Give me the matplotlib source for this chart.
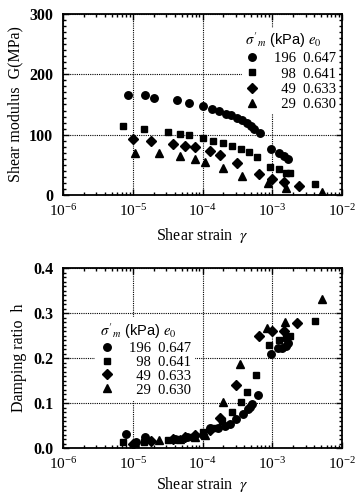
import matplotlib
matplotlib.use("Agg")
import matplotlib.pyplot as plt
from matplotlib.ticker import LogLocator, NullFormatter, MultipleLocator, AutoMinorLocator

plt.rcParams['font.family'] = ['Liberation Serif', 'DejaVu Serif']
plt.rcParams['mathtext.fontset'] = 'stix'

# legend rows: confining stress (kPa) and void ratio
stress = ['196', '98', '49', '29']
void_ratio = ['0.647', '0.641', '0.633', '0.630']
markers = ['o', 's', 'D', '^']
msizes = [5.4, 4.8, 4.8, 5.2]

# shear modulus G (MPa) vs shear strain
g196_x = [8.5e-6, 1.52e-5, 2.05e-5, 4.3e-5, 6.4e-5, 1.0e-4, 1.38e-4, 1.75e-4, 2.14e-4, 2.58e-4,
          3.1e-4, 3.7e-4, 4.4e-4, 5.0e-4, 5.45e-4, 6.6e-4, 9.7e-4, 1.23e-3, 1.45e-3, 1.67e-3]
g196_y = [165, 165, 161, 157, 153, 147, 142, 139, 135, 132, 128, 124, 119, 114, 110, 102, 77, 70, 65, 59]
g98_x = [7.2e-6, 1.44e-5, 3.2e-5, 4.8e-5, 6.5e-5, 1.0e-4, 1.4e-4, 2.0e-4, 2.67e-4, 3.6e-4,
         4.6e-4, 6.0e-4, 9.35e-4, 1.23e-3, 1.55e-3, 1.77e-3, 4.05e-3]
g98_y = [114, 110, 104, 101, 99, 94, 90, 86, 81, 76, 71, 63, 47, 43, 37, 36, 18]
g49_x = [1.0e-5, 1.84e-5, 3.75e-5, 5.7e-5, 7.9e-5, 1.26e-4, 1.81e-4, 3.15e-4, 6.4e-4, 1.0e-3, 1.47e-3, 2.4e-3]
g49_y = [93, 89, 85, 82, 80, 73, 67, 53, 34, 26, 21, 15]
g29_x = [1.06e-5, 2.4e-5, 4.8e-5, 7.7e-5, 1.07e-4, 2.0e-4, 3.7e-4, 8.6e-4, 1.55e-3, 5.2e-3]
g29_y = [70, 69, 64, 59, 55, 44, 32, 20, 12, 5]

# damping ratio h vs shear strain
h196_x = [8.0e-6, 1.1e-5, 1.5e-5, 4.0e-5, 6.0e-5, 1.0e-4, 1.26e-4, 1.66e-4, 2.07e-4, 2.44e-4,
          3.04e-4, 3.78e-4, 4.46e-4, 4.8e-4, 5.16e-4, 6.3e-4, 9.5e-4, 1.2e-3, 1.38e-3, 1.55e-3, 1.67e-3]
h196_y = [0.032, 0.013, 0.025, 0.02, 0.024, 0.028, 0.045, 0.044, 0.048, 0.053,
          0.064, 0.075, 0.086, 0.092, 0.097, 0.118, 0.208, 0.222, 0.223, 0.226, 0.233]
h98_x = [7.2e-6, 1.44e-5, 3.2e-5, 4.8e-5, 6.5e-5, 1.0e-4, 1.4e-4, 1.92e-4, 2.66e-4, 3.59e-4,
         4.37e-4, 5.76e-4, 9.1e-4, 1.23e-3, 1.55e-3, 1.77e-3, 4.05e-3]
h98_y = [0.013, 0.014, 0.018, 0.02, 0.025, 0.035, 0.045, 0.06, 0.081, 0.102,
         0.125, 0.162, 0.23, 0.241, 0.245, 0.25, 0.283]
h49_x = [1.0e-5, 1.84e-5, 3.75e-5, 5.7e-5, 7.9e-5, 1.26e-4, 1.81e-4, 3.04e-4, 6.4e-4, 1.0e-3, 1.47e-3, 2.28e-3]
h49_y = [0.01, 0.016, 0.02, 0.025, 0.03, 0.04, 0.066, 0.139, 0.25, 0.261, 0.261, 0.278]
h29_x = [1.06e-5, 2.4e-5, 4.8e-5, 7.7e-5, 1.07e-4, 1.96e-4, 3.4e-4, 8.5e-4, 1.53e-3, 5.2e-3]
h29_y = [0.012, 0.018, 0.02, 0.024, 0.03, 0.103, 0.186, 0.267, 0.279, 0.331]

g_series = [(g196_x, g196_y), (g98_x, g98_y), (g49_x, g49_y), (g29_x, g29_y)]
h_series = [(h196_x, h196_y), (h98_x, h98_y), (h49_x, h49_y), (h29_x, h29_y)]

fig = plt.figure(figsize=(3.57, 4.96), dpi=100)
ax1 = fig.add_axes([63/357, 1 - 195/496, 279/357, 181/496])
ax2 = fig.add_axes([63/357, 1 - 448/496, 279/357, 180/496])


def pad(s):
    # two spaces ~ one digit width in Times metrics
    return '  ' * (3 - len(s)) + s


def style(ax, ymax, ymajor, ylabel, xlabelpad):
    ax.set_xscale('log')
    ax.set_xlim(1e-6, 1e-2)
    ax.set_ylim(0, ymax)
    ax.yaxis.set_major_locator(MultipleLocator(ymajor))
    ax.yaxis.set_minor_locator(AutoMinorLocator(10))
    ax.xaxis.set_major_locator(LogLocator(base=10, numticks=10))
    ax.xaxis.set_minor_locator(LogLocator(base=10, subs=range(2, 10), numticks=50))
    ax.xaxis.set_minor_formatter(NullFormatter())
    ax.tick_params(which='both', direction='in', top=True, right=True, width=1.0)
    ax.tick_params(which='major', length=4)
    ax.tick_params(which='minor', length=2)
    ax.tick_params(axis='x', labelsize=11, pad=6)
    ax.tick_params(axis='y', labelsize=11.5, pad=7)
    for t in ax.get_yticklabels():
        t.set_fontweight('bold')
    ax.grid(True, which='major', linestyle=(0, (1, 1)), color='black', linewidth=0.8)
    for sp in ax.spines.values():
        sp.set_linewidth(1.3)
    ax.set_xlabel(r'Shear strain  $\gamma$', fontsize=11.5, labelpad=xlabelpad)
    ax.set_ylabel(ylabel, fontsize=11.5, labelpad=4)


title = r"$\sigma'_m$ (kPa) $e_0$"

handles = []
for (xs, ys), m, ms in zip(g_series, markers, msizes):
    ln, = ax1.plot(xs, ys, linestyle='none', marker=m, markersize=ms, color='black')
    handles.append(ln)
style(ax1, 300, 100, 'Shear modulus  G(MPa)', 5)
labels = [f'{pad(s)}  {e}' for s, e in zip(stress, void_ratio)]
leg1 = ax1.legend(handles, labels, title=title, loc='upper right', bbox_to_anchor=(1.0, 0.94),
                  frameon=True, facecolor='white', edgecolor='none', framealpha=1,
                  fontsize=10.5, title_fontsize=10.5, alignment='left',
                  handlelength=1.0, handletextpad=1.0, labelspacing=0.13,
                  borderpad=0.2, borderaxespad=0.2)
leg1.get_title().set_fontfamily(['Liberation Sans', 'DejaVu Sans'])

handles = []
for (xs, ys), m, ms in zip(h_series, markers, msizes):
    ln, = ax2.plot(xs, ys, linestyle='none', marker=m, markersize=ms, color='black')
    handles.append(ln)
style(ax2, 0.4, 0.1, 'Damping ratio  h', 2)
leg2 = ax2.legend(handles, labels, title=title, loc='upper left', bbox_to_anchor=(0.105, 0.745),
                  frameon=True, facecolor='white', edgecolor='none', framealpha=1,
                  fontsize=10.5, title_fontsize=10.5, alignment='left',
                  handlelength=1.0, handletextpad=1.0, labelspacing=0.05,
                  borderpad=0.3, borderaxespad=0.2)
leg2.get_title().set_fontfamily(['Liberation Sans', 'DejaVu Sans'])

fig.savefig('out.png', dpi=100)
